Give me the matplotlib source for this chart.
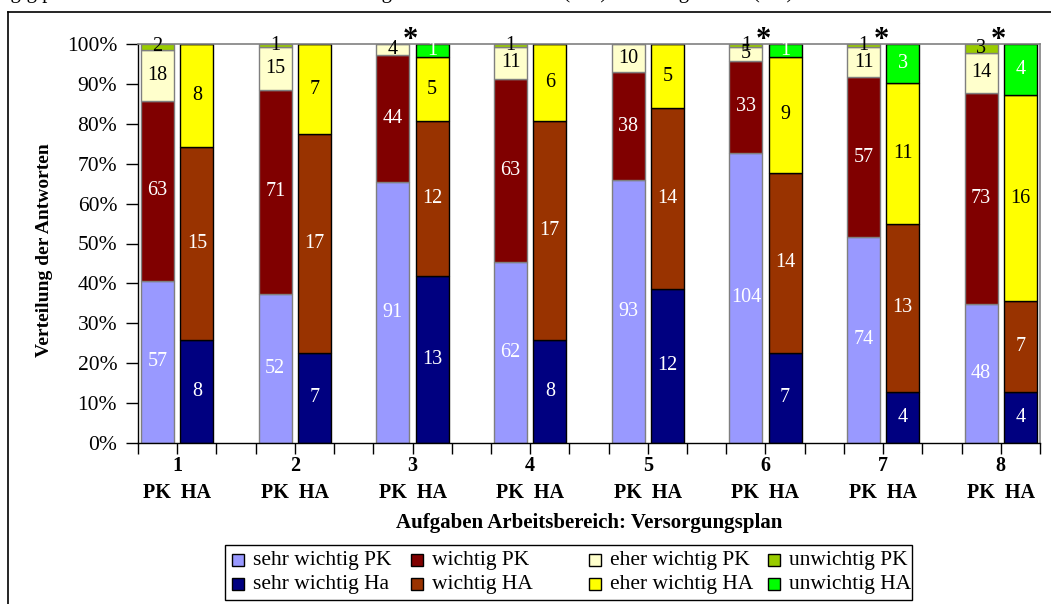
import numpy as np
import matplotlib
matplotlib.use("Agg")
import matplotlib.pyplot as plt
from matplotlib.patches import Rectangle
from matplotlib.lines import Line2D

plt.rcParams['font.family'] = ['Liberation Serif', 'DejaVu Serif']

# answer counts per task (1..8), bottom to top of each stacked bar
tasks = ['1', '2', '3', '4', '5', '6', '7', '8']
sehr_pk = [57, 52, 91, 62, 93, 104, 74, 48]
wichtig_pk = [63, 71, 44, 63, 38, 33, 57, 73]
eher_pk = [18, 15, 4, 11, 10, 5, 11, 14]
unw_pk = [2, 1, 0, 1, 0, 1, 1, 3]
sehr_ha = [8, 7, 13, 8, 12, 7, 4, 4]
wichtig_ha = [15, 17, 12, 17, 14, 14, 13, 7]
eher_ha = [8, 7, 5, 6, 5, 9, 11, 16]
unw_ha = [0, 0, 1, 0, 0, 1, 3, 4]
signif = ['3', '6', '7', '8']

pk_series = [
    ('sehr wichtig PK', sehr_pk, '#9999FF', 'white'),
    ('wichtig PK', wichtig_pk, '#800000', 'white'),
    ('eher wichtig PK', eher_pk, '#FFFFCC', 'black'),
    ('unwichtig PK', unw_pk, '#99CC00', 'black'),
]
ha_series = [
    ('sehr wichtig Ha', sehr_ha, '#000080', 'white'),
    ('wichtig HA', wichtig_ha, '#993300', 'white'),
    ('eher wichtig HA', eher_ha, '#FFFF00', 'black'),
    ('unwichtig HA', unw_ha, '#00FF00', 'white'),
]

W, H = 1051, 604
fig = plt.figure(figsize=(W / 100, H / 100), dpi=100)
ax = fig.add_axes([138 / W, 161 / H, 902 / W, 399 / H])

n = len(tasks)
# three slots per task: PK, HA, gap (last gap dropped)
x_pk = np.arange(n) * 3 + 0.5
x_ha = np.arange(n) * 3 + 1.5
bw = 0.84


def stack(xpos, series, edge):
    totals = np.sum([s[1] for s in series], axis=0).astype(float)
    bottom = np.zeros(n)
    for name, vals, col, tcol in series:
        frac = np.array(vals) / totals
        ax.bar(xpos, frac, bw, bottom=bottom, color=col, edgecolor=edge,
               linewidth=1.0, zorder=2)
        for i in range(n):
            if vals[i] > 0:
                ax.text(xpos[i], bottom[i] + frac[i] / 2, str(vals[i]),
                        ha='center', va='center', fontsize=14.5, color=tcol,
                        zorder=3)
        bottom += frac


stack(x_pk, pk_series, '#7F7F7F')
stack(x_ha, ha_series, 'black')

ax.set_xlim(0, 3 * n - 1)
ax.set_ylim(0, 1)
ax.set_yticks(np.linspace(0, 1, 11))
ax.set_yticklabels([f'{p}%' for p in range(0, 101, 10)], fontsize=15.5)
ax.set_xticks(np.arange(0, 3 * n))
ax.set_xticklabels([])
ax.tick_params(axis='y', direction='out', length=9, width=1, pad=6)
ax.tick_params(axis='x', direction='out', length=8, width=1)
for s in ['left', 'bottom']:
    ax.spines[s].set_color('black')
    ax.spines[s].set_linewidth(1.0)
for s in ['top', 'right']:
    ax.spines[s].set_color('#808080')
    ax.spines[s].set_linewidth(1.2)

trans = ax.get_xaxis_transform()
for i, t in enumerate(tasks):
    xc = 3 * i + 1
    ax.text(xc, -0.058, t, transform=trans, ha='center', va='center',
            fontsize=14.5, fontweight='bold')
    ax.text(xc, -0.125, 'PK  HA', transform=trans, ha='center', va='center',
            fontsize=14.5, fontweight='bold')
    if t in signif:
        ax.text(xc - 0.05, 0.99, '*', transform=trans, ha='center',
                va='baseline', fontsize=22, fontweight='bold', clip_on=False)

ax.text(0.5 * (3 * n - 1), -0.2, 'Aufgaben Arbeitsbereich: Versorgungsplan',
        transform=trans, ha='center', va='center', fontsize=15,
        fontweight='bold')
fig.text(45 / W, 1 - 250 / H, 'Verteilung der Antworten', rotation=90,
         ha='center', va='center', fontsize=14, fontweight='bold')

# legend box with equal column widths, PK row on top, HA row below
lx0, ly0, lx1, ly1 = 225, 545, 912, 600
fig.add_artist(Rectangle((lx0 / W, 1 - ly1 / H), (lx1 - lx0) / W,
                         (ly1 - ly0) / H, facecolor='white', edgecolor='black',
                         linewidth=1.0, transform=fig.transFigure))
col_w = 178.7
for row, series in enumerate([pk_series, ha_series]):
    yc = 560 + row * 24
    for c, (name, vals, col, tcol) in enumerate(series):
        mx = 232 + c * col_w
        fig.add_artist(Rectangle((mx / W, 1 - (yc + 6) / H), 12 / W, 12 / H,
                                 facecolor=col, edgecolor='black',
                                 linewidth=1.0, transform=fig.transFigure))
        fig.text((mx + 21) / W, 1 - yc / H, name, ha='left', va='center',
                 fontsize=15.5)

# outer chart frame
fig.add_artist(Line2D([8 / W, 8 / W], [0, 1 - 12 / H], color='black', lw=1.2))
fig.add_artist(Line2D([8 / W, 1], [1 - 12 / H, 1 - 12 / H], color='black', lw=1.2))

# caption line of the page above, only its lower part is on the sheet
base = 1 + 2 / H
fig.text(0 / W, base, 'ngig p', ha='left', va='baseline', fontsize=15)
fig.text(392 / W, base, 'Bewertung', ha='right', va='baseline', fontsize=15)
fig.text(607 / W, base, 'Hausärzte (HA)', ha='right', va='baseline', fontsize=15)
fig.text(793 / W, base, 'Pflegekräfte (PK)', ha='right', va='baseline', fontsize=15)

fig.savefig('out.png', dpi=100)
